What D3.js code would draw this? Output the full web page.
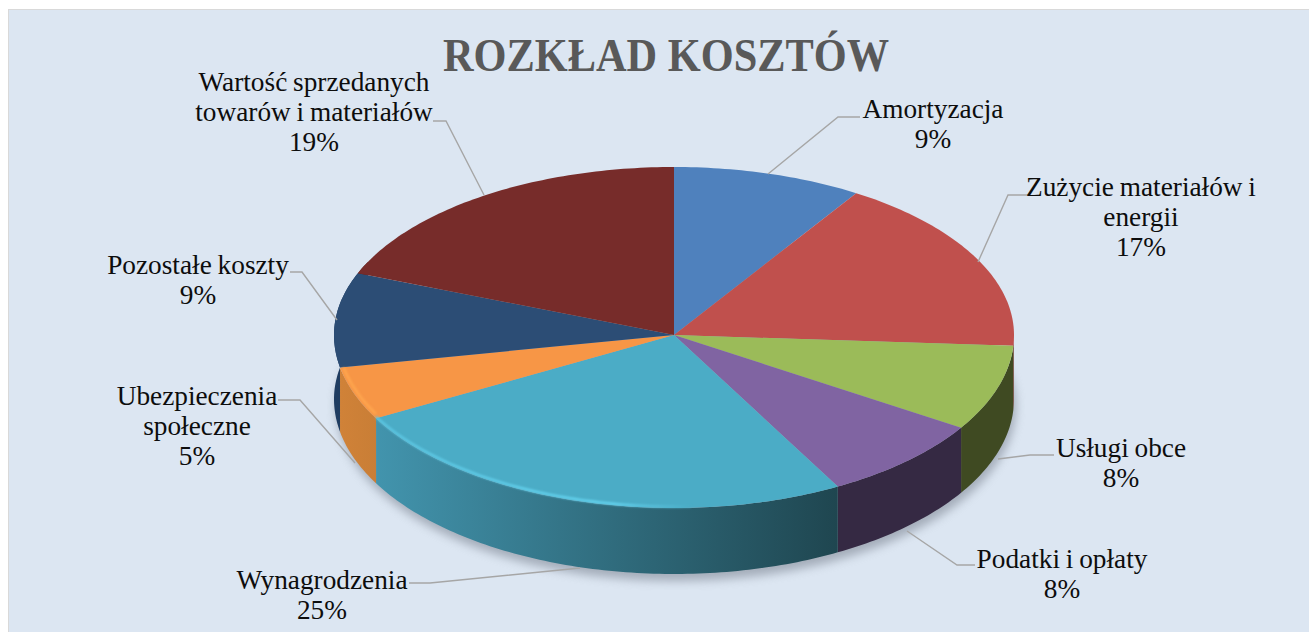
<!DOCTYPE html>
<html><head><meta charset="utf-8">
<script src="https://cdn.jsdelivr.net/npm/d3@7/dist/d3.min.js"></script>
<style>html,body{margin:0;padding:0;background:#fff;overflow:hidden}svg{display:block}</style>
</head><body><svg id="c" width="1309" height="632"></svg>
<script>
const categories=["Amortyzacja","Zużycie materiałów i energii","Usługi obce","Podatki i opłaty","Wynagrodzenia","Ubezpieczenia społeczne","Pozostałe koszty","Wartość sprzedanych towarów i materiałów"];
const values=[9,17,8,8,25,5,9,19];
const topColors=["#4f81bd","#c0504d","#9bbb59","#8064a2","#4bacc6","#f79646","#2c4d75","#772c2a"];
const wallLeft=["#3a6190","#8e3a38","#3f4a22","#352943","#4294ad","#d08238","#1f3c60","#5a2220"];
const wallRight=["#3a6190","#8e3a38","#3f4a22","#352943","#1f4650","#c97e36","#1f3c60","#5a2220"];
const labelLines=[["Amortyzacja","9%"],["Zużycie materiałów i","energii","17%"],["Usługi obce","8%"],["Podatki i opłaty","8%"],["Wynagrodzenia","25%"],["Ubezpieczenia","społeczne","5%"],["Pozostałe koszty","9%"],["Wartość sprzedanych","towarów i materiałów","19%"]];
const labelPos=[[933,118],[1141,196],[1121,457],[1062,568],[322,589],[197,405],[198,274],[314,91]];
const leaders=[[[860,117],[838,117],[768,174]],[[1030,195],[1008,195],[978,262]],[[1054,455],[1030,455],[998,459]],[[975,565],[957,565],[907,531]],[[409,583],[430,583],[580,568]],[[278,400],[300,400],[355,463]],[[290,272],[302,272],[337,320]],[[433,121],[446,121],[484,195]]];
const title="ROZKŁAD KOSZTÓW";

const svg=d3.select("#c");
const cx=674,cy=335,rx=340,ryBack=168,ryFront=173,depth=64;
const sx=d3.scaleLinear().domain([-1,1]).range([cx-rx,cx+rx]);
const tau=Math.PI*2;
function ptTop(a){const c=Math.cos(a);const ry=c>0?ryBack:ryFront;return [sx(Math.sin(a)),cy-ry*c];}
function ptBot(a){const c=Math.cos(a);const ry=c>0?ryBack:ryFront+2;return [sx(Math.sin(a)),cy+depth-ry*c];}
function samples(a0,a1){const n=Math.max(2,Math.ceil(Math.abs(a1-a0)*60));return d3.range(n+1).map(i=>a0+(a1-a0)*i/n);}
const line=d3.line();
const pie=d3.pie().sort(null).value(d=>d)(values);

const defs=svg.append("defs");
const blur=defs.append("filter").attr("id","sh").attr("x","-10%").attr("y","-10%").attr("width","120%").attr("height","120%");
blur.append("feGaussianBlur").attr("stdDeviation",5);
const soft=defs.append("filter").attr("id","soft").attr("filterUnits","userSpaceOnUse").attr("x",300).attr("y",330).attr("width",600).attr("height",220);
soft.append("feGaussianBlur").attr("stdDeviation",1.1);
pie.forEach((d,i)=>{
  const xs=samples(d.startAngle,d.endAngle).map(a=>ptTop(a)[0]);
  const g=defs.append("linearGradient").attr("id","w"+i).attr("gradientUnits","userSpaceOnUse")
    .attr("x1",d3.min(xs)).attr("x2",d3.max(xs)).attr("y1",0).attr("y2",0);
  g.append("stop").attr("offset",0).attr("stop-color",wallLeft[i]);
  g.append("stop").attr("offset",1).attr("stop-color",wallRight[i]);
});
const hg=defs.append("linearGradient").attr("id","hg").attr("gradientUnits","userSpaceOnUse").attr("x1",376).attr("x2",690).attr("y1",0).attr("y2",0);
hg.append("stop").attr("offset",0).attr("stop-color","#5cc6e2");
hg.append("stop").attr("offset",.75).attr("stop-color","#66d6f2");
hg.append("stop").attr("offset",1).attr("stop-color","#4bacc6");

svg.append("rect").attr("x",8.5).attr("y",9.5).attr("width",1301).attr("height",623).attr("fill","#dce6f2").attr("stroke","#d9d9d9");

// soft shadow below the disc
const all=samples(0,tau);
svg.append("path").attr("d",line(all.map(a=>{const p=ptBot(a);return [p[0]+2,p[1]+7];}))+"Z").attr("fill","#7f8794").attr("opacity",.6).attr("filter","url(#sh)");

// outer walls
const wallPath=(a0,a1)=>{
  const s=samples(a0,a1);
  return line(s.map(ptTop).concat(s.slice().reverse().map(ptBot)))+"Z";
};
pie.forEach((d,i)=>{
  const a0=Math.max(d.startAngle,Math.PI/2),a1=Math.min(d.endAngle,Math.PI*1.5+0.45);
  if(a1>a0) svg.append("path").attr("d",wallPath(a0,a1)).attr("fill",`url(#w${i})`);
});

// top faces
const topPath=d=>line([[cx,cy]].concat(samples(d.startAngle,d.endAngle).map(ptTop)))+"Z";
svg.selectAll("path.top").data(pie).join("path").attr("class","top").attr("d",topPath).attr("fill",(d,i)=>topColors[i]);

// rim highlight on the teal and orange edge
[[4,"url(#hg)"],[5,"#ffa750"]].forEach(([i,c])=>{
  const d=pie[i];
  const a0=i===4?Math.PI-0.05:d.startAngle+.02;
  const a1=i===4?d.endAngle:d.endAngle-0.01;
  svg.append("path").attr("d",line(samples(a0,a1).map(a=>{const p=ptTop(a);return [p[0]+(i===5?3:0),p[1]-1.5];}))).attr("fill","none").attr("stroke",c).attr("stroke-width",2.4).attr("filter","url(#soft)");
});

// leader lines
svg.selectAll("path.lead").data(leaders).join("path").attr("class","lead").attr("d",d=>line(d)).attr("fill","none").attr("stroke","#a6a6a6").attr("stroke-width",1.4);

// labels
const font="'Liberation Serif','Times New Roman',serif";
labelLines.forEach((ls,i)=>{
  const t=svg.append("text").attr("text-anchor","middle").attr("font-family",font).attr("font-size",27.3).attr("word-spacing",-1).attr("fill","#0d0d0d").attr("data-cat",categories[i]);
  ls.forEach((s,j)=>t.append("tspan").attr("x",labelPos[i][0]).attr("y",labelPos[i][1]+j*30.2).text(s));
});
svg.append("text").attr("x",666).attr("y",71).attr("text-anchor","middle").attr("font-family",font).attr("font-weight",700).attr("font-size",46).attr("textLength",446).attr("lengthAdjust","spacingAndGlyphs").attr("fill","#595959").text(title);
</script></body></html>
